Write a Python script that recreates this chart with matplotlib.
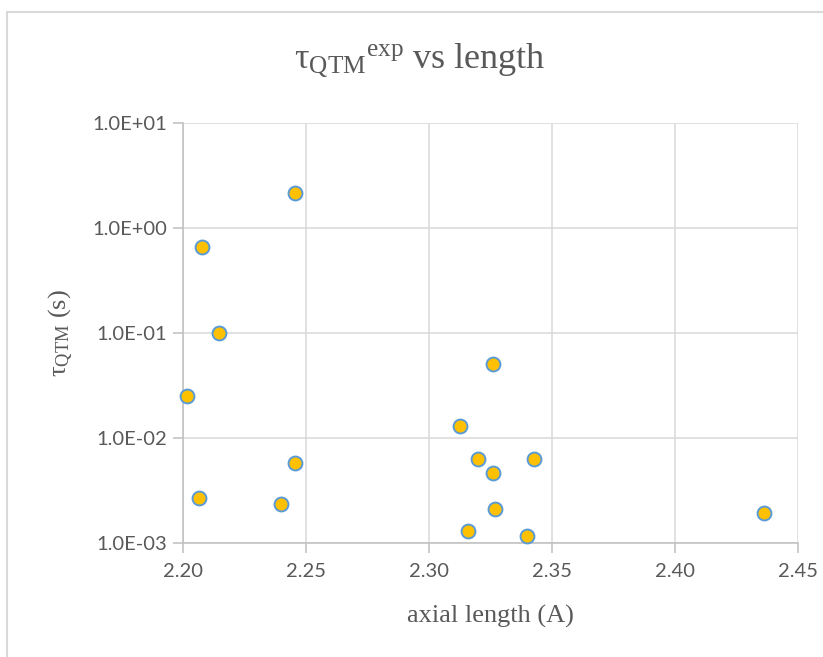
import matplotlib
matplotlib.use("Agg")
import matplotlib.pyplot as plt
from matplotlib.patches import Rectangle

# Data
axial_length = [2.2457, 2.2077, 2.2148, 2.2019, 2.3127, 2.3259, 2.2457, 2.2068,
                2.2398, 2.3198, 2.3259, 2.3270, 2.3161, 2.3428, 2.3398, 2.4360]
tau_qtm = [2.13, 0.653, 0.099, 0.0253, 0.0131, 0.0507, 0.00585, 0.0027,
           0.00235, 0.0063, 0.00467, 0.00212, 0.00131, 0.00638, 0.00118, 0.00193]
x_ticks = [2.20, 2.25, 2.30, 2.35, 2.40, 2.45]
x_tick_labels = ["2.20", "2.25", "2.30", "2.35", "2.40", "2.45"]
y_ticks = [1e-3, 1e-2, 1e-1, 1e0, 1e1]
y_tick_labels = ["1.0E-03", "1.0E-02", "1.0E-01", "1.0E+00", "1.0E+01"]

plt.rcParams['mathtext.fontset'] = 'custom'
plt.rcParams['mathtext.rm'] = 'Liberation Serif'
plt.rcParams['mathtext.it'] = 'Liberation Serif:italic'
plt.rcParams['mathtext.bf'] = 'Liberation Serif:bold'

W, H = 823, 657
fig = plt.figure(figsize=(W / 100, H / 100), dpi=100)
fig.patch.set_facecolor('white')

# outer chart border (left and top edges visible)
fig.patches.append(Rectangle((7 / W, -0.5), 2.0, 1.5 - 12 / H, transform=fig.transFigure,
                             fill=False, edgecolor='#d9d9d9', linewidth=1.5, zorder=0))

left, right = 182.7 / W, 798 / W
top, bottom = 1 - 122.7 / H, 1 - 543.3 / H
ax = fig.add_axes([left, bottom, right - left, top - bottom])

ax.set_yscale('log')
ax.set_xlim(2.20, 2.45)
ax.set_ylim(1e-3, 1e1)

grid_c = '#d9d9d9'
axis_c = '#bfbfbf'
text_c = '#595959'

ax.set_xticks(x_ticks)
ax.set_xticklabels(x_tick_labels)
ax.set_yticks(y_ticks)
ax.set_yticklabels(y_tick_labels)
ax.yaxis.set_minor_locator(matplotlib.ticker.NullLocator())

ax.grid(True, color=grid_c, linewidth=1.1, zorder=0)
ax.set_axisbelow(True)
for s in ['top', 'right']:
    ax.spines[s].set_visible(False)
for s in ['left', 'bottom']:
    ax.spines[s].set_color(axis_c)
    ax.spines[s].set_linewidth(1.1)

ax.tick_params(axis='both', which='major', direction='out', length=7, width=1.1,
               color=axis_c, labelcolor=text_c, labelsize=14.5)
ax.tick_params(axis='x', pad=7)
ax.tick_params(axis='y', pad=4)
for lab in ax.get_xticklabels() + ax.get_yticklabels():
    lab.set_fontfamily('Lato')

ax.scatter(axial_length, tau_qtm, s=100, facecolor='#FFC000', edgecolor='#5B9BD5',
           linewidths=1.4, zorder=3, clip_on=False)

fig.text(419.5 / W, 1 - 68 / H, r'$\mathrm{τ_{QTM}{}^{exp}}$ vs length', ha='center',
         va='baseline', fontsize=26, color=text_c, family='Liberation Serif')
fig.text(490.5 / W, 1 - 623 / H, 'axial length (A)', ha='center', va='baseline',
         fontsize=19, color=text_c, family='Liberation Serif')
fig.text(61 / W, 1 - 333 / H, r'$\mathrm{τ_{QTM}}$ (s)', ha='center', va='center',
         rotation=90, fontsize=19, color=text_c, family='Liberation Serif')

fig.savefig('out.png', dpi=100)
